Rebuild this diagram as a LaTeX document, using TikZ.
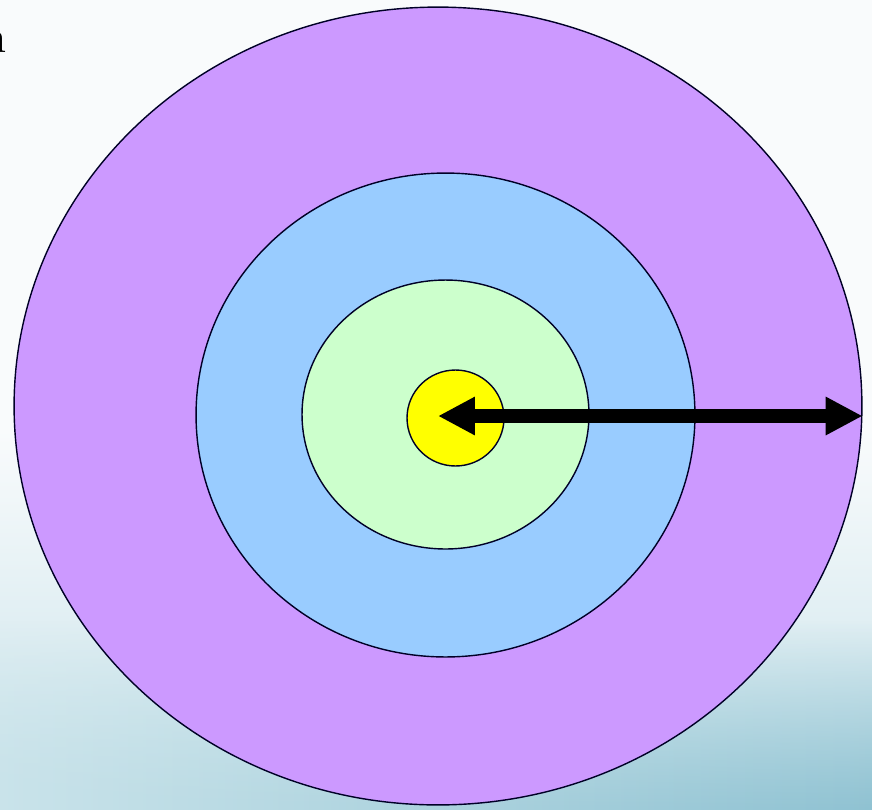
\documentclass[tikz,border=0pt]{standalone}
\usetikzlibrary{shapes.geometric,arrows.meta,fadings}
\definecolor{bgtop}{HTML}{F9FBFC}
\definecolor{bgbot}{HTML}{C9E3EA}
\definecolor{bgbotR}{HTML}{8FC2D2}
\definecolor{ringP}{HTML}{CC99FF}
\definecolor{ringB}{HTML}{99CCFF}
\definecolor{ringG}{HTML}{CCFFCC}
\definecolor{ringY}{HTML}{FFFF00}
\tikzset{
  ring/.style={ellipse, draw=black!85!blue, line width=0.8pt, inner sep=0pt},
  bigarrow/.style={line width=0.28cm, {Triangle[length=0.74cm,width=0.72cm]}-{Triangle[length=0.74cm,width=0.72cm]}}
}
\begin{document}
\begin{tikzpicture}[x=0.02cm,y=-0.02cm]
\useasboundingbox (0,0) rectangle (872,809);
\fill[bgtop] (0,0) rectangle (872,809);
\shade[top color=bgtop, bottom color=bgbot] (0,430) rectangle (872,809);
\shade[left color=bgbot, right color=bgbotR, path fading=north] (0,620) rectangle (872,809);
\node[anchor=base east, inner sep=0pt, font=\fontsize{26}{26}\selectfont] (frag) at (6.8,52) {n};
\node[ring, fill=ringP, minimum width=16.96cm, minimum height=15.96cm] (outer) at (438,406) {};
\node[ring, fill=ringB, minimum width=9.98cm, minimum height=9.68cm] (blue) at (445.5,415) {};
\node[ring, fill=ringG, minimum width=5.74cm, minimum height=5.38cm] (green) at (445.5,414.5) {};
\node[ring, fill=ringY, minimum width=1.94cm, minimum height=1.92cm] (yellow) at (455.5,418) {};
\coordinate (tipL) at (438,416);
\coordinate (tipR) at (outer.east |- tipL);
\draw[bigarrow] (tipL) -- (tipR);
\end{tikzpicture}
\end{document}
